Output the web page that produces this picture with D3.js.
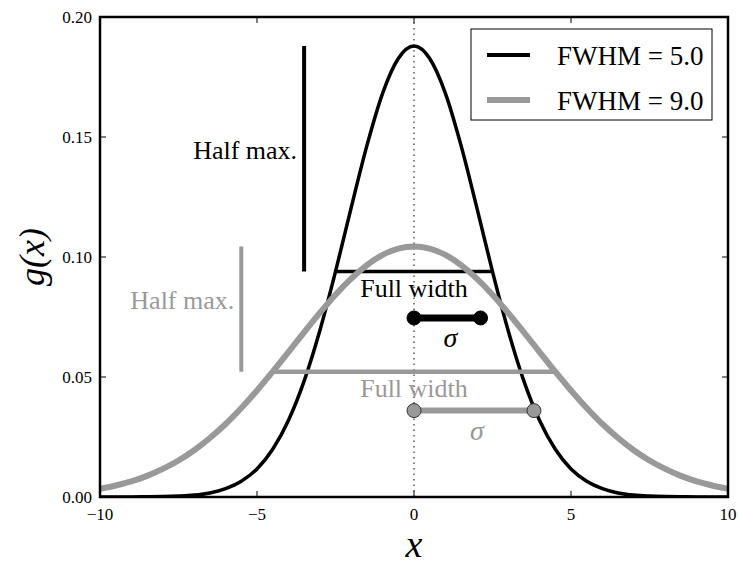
<!DOCTYPE html>
<html>
<head>
<meta charset="utf-8">
<script src="https://cdn.jsdelivr.net/npm/d3@7"></script>
<style>
  body { margin: 0; background: #fff; }
</style>
</head>
<body>
<div class="canvas"></div>
<script>
// sample positions and curve values
const xs = [-10, -9.5, -9, -8.5, -8, -7.5, -7, -6.5, -6, -5.5, -5, -4.5, -4, -3.5, -3, -2.5, -2, -1.5, -1, -0.5,
    0, 0.5, 1, 1.5, 2, 2.5, 3, 3.5, 4, 4.5, 5, 5.5, 6, 6.5, 7, 7.5, 8, 8.5, 9, 9.5, 10]

const fwhm5 = [0, 0, 0, 0.0001, 0.0002, 0.0004, 0.0008, 0.0017, 0.0035, 0.0066, 0.0117, 0.0199, 0.0319, 0.0483, 0.0693, 0.0939, 0.1206, 0.1464, 0.1682, 0.1827,
    0.1879, 0.1827, 0.1682, 0.1464, 0.1206, 0.0939, 0.0693, 0.0483, 0.0319, 0.0199, 0.0117, 0.0066, 0.0035, 0.0017, 0.0008, 0.0004, 0.0002, 0.0001, 0, 0, 0]

const fwhm9 = [0.0034, 0.0048, 0.0065, 0.0088, 0.0117, 0.0152, 0.0195, 0.0246, 0.0304, 0.0371, 0.0444, 0.0522, 0.0604, 0.0686, 0.0767, 0.0843, 0.0910, 0.0966, 0.1009, 0.1035,
    0.1044, 0.1035, 0.1009, 0.0966, 0.0910, 0.0843, 0.0767, 0.0686, 0.0604, 0.0522, 0.0444, 0.0371, 0.0304, 0.0246, 0.0195, 0.0152, 0.0117, 0.0088, 0.0065, 0.0048, 0.0034]

// per-curve annotation values
const labels = ['FWHM = 5.0', 'FWHM = 9.0']
const peaks = [0.1879, 0.1044]
const halfWidths = [2.5, 4.5]
const sigmas = [2.12, 3.82]
const sigmaY = [0.0746, 0.036]
const halfMaxX = [-3.5, -5.5]

const xTicks = [-10, -5, 0, 5, 10]
const yTicks = [0, 0.05, 0.10, 0.15, 0.20]

const serif = '"Liberation Serif", "Times New Roman", Tinos, "DejaVu Serif", "Noto Serif", serif'

const dims = { width: 738, height: 567 }
const margin = { left: 100, top: 17, right: 10, bottom: 70 }
const w = dims.width - margin.left - margin.right
const h = dims.height - margin.top - margin.bottom

const styles = [
    { color: '#000', lw: 3.5, dotFill: '#000' },
    { color: '#999', lw: 6, dotFill: '#999' }
]
const series = [fwhm5, fwhm9]

const svg = d3.select('.canvas')
    .append('svg')
    .attr('width', dims.width)
    .attr('height', dims.height)
    .style('font-family', serif)

const graph = svg.append('g')
    .attr('transform', `translate(${margin.left}, ${margin.top})`)

const x = d3.scaleLinear().domain([-10, 10]).range([0, w])
const y = d3.scaleLinear().domain([0, 0.2]).range([h, 0])

svg.append('defs').append('clipPath')
    .attr('id', 'clip')
    .append('rect')
    .attr('width', w).attr('height', h)

// dotted centre line
graph.append('line')
    .attr('x1', x(0)).attr('x2', x(0))
    .attr('y1', 0).attr('y2', h)
    .attr('stroke', '#000')
    .attr('stroke-width', 1)
    .attr('stroke-dasharray', '1.5,4')

const line = d3.line()
    .x((d, i) => x(xs[i]))
    .y(d => y(d))
    .curve(d3.curveMonotoneX)

series.forEach((vals, k) => {
    const s = styles[k]
    const g = graph.append('g').attr('clip-path', 'url(#clip)')

    g.append('path')
        .attr('d', line(vals))
        .attr('fill', 'none')
        .attr('stroke', s.color)
        .attr('stroke-width', s.lw)

    const half = peaks[k] / 2

    // half max bar
    g.append('line')
        .attr('x1', x(halfMaxX[k])).attr('x2', x(halfMaxX[k]))
        .attr('y1', y(half)).attr('y2', y(peaks[k]))
        .attr('stroke', s.color)
        .attr('stroke-width', 4)

    graph.append('text')
        .attr('x', x(halfMaxX[k]) - 7)
        .attr('y', y((half + peaks[k]) / 2))
        .attr('text-anchor', 'end')
        .attr('font-size', 26)
        .attr('fill', s.color)
        .style('font-family', serif)
        .text('Half max.')

    // full width bar
    g.append('line')
        .attr('x1', x(-halfWidths[k])).attr('x2', x(halfWidths[k]))
        .attr('y1', y(half)).attr('y2', y(half))
        .attr('stroke', s.color)
        .attr('stroke-width', k ? 4.5 : 3.5)

    graph.append('text')
        .attr('x', x(0))
        .attr('y', y(half) + 25)
        .attr('text-anchor', 'middle')
        .attr('font-size', 26)
        .attr('fill', s.color)
        .style('font-family', serif)
        .text('Full width')

    // sigma bar with end dots
    graph.append('line')
        .attr('x1', x(0)).attr('x2', x(sigmas[k]))
        .attr('y1', y(sigmaY[k])).attr('y2', y(sigmaY[k]))
        .attr('stroke', s.color)
        .attr('stroke-width', k ? 6 : 7)

    graph.selectAll(null)
        .data([0, sigmas[k]])
        .enter()
        .append('circle')
            .attr('cx', d => x(d))
            .attr('cy', y(sigmaY[k]))
            .attr('r', 7)
            .attr('fill', s.dotFill)
            .attr('stroke', k ? '#333' : '#000')
            .attr('stroke-width', 1)

    graph.append('text')
        .attr('x', x(sigmas[k] / 2) + 3)
        .attr('y', y(sigmaY[k]) + 29)
        .attr('text-anchor', 'middle')
        .attr('font-size', 28)
        .attr('font-style', 'italic')
        .attr('fill', s.color)
        .style('font-family', serif)
        .text('σ')
})

// frame
graph.append('rect')
    .attr('width', w).attr('height', h)
    .attr('fill', 'none')
    .attr('stroke', '#000')
    .attr('stroke-width', 2.5)

// ticks, inward on all four sides
const tickLen = 6
xTicks.forEach(t => {
    graph.append('line').attr('x1', x(t)).attr('x2', x(t)).attr('y1', h).attr('y2', h - tickLen).attr('stroke', '#000')
    graph.append('line').attr('x1', x(t)).attr('x2', x(t)).attr('y1', 0).attr('y2', tickLen).attr('stroke', '#000')
})
yTicks.forEach(t => {
    graph.append('line').attr('x1', 0).attr('x2', tickLen).attr('y1', y(t)).attr('y2', y(t)).attr('stroke', '#000')
    graph.append('line').attr('x1', w).attr('x2', w - tickLen).attr('y1', y(t)).attr('y2', y(t)).attr('stroke', '#000')
})

const fmtX = d3.format('d')
const fmtY = d3.format('.2f')

graph.selectAll('.xlab')
    .data(xTicks)
    .enter()
    .append('text')
        .attr('x', d => x(d))
        .attr('y', h + 23)
        .attr('text-anchor', 'middle')
        .attr('font-size', 17)
        .style('font-family', serif)
        .text(d => fmtX(d))

graph.selectAll('.ylab')
    .data(yTicks)
    .enter()
    .append('text')
        .attr('x', -8)
        .attr('y', d => y(d) + 6)
        .attr('text-anchor', 'end')
        .attr('font-size', 17)
        .style('font-family', serif)
        .text(d => fmtY(d))

// axis labels
svg.append('text')
    .attr('x', margin.left + x(0))
    .attr('y', 557)
    .attr('text-anchor', 'middle')
    .attr('font-size', 38)
    .attr('font-style', 'italic')
    .style('font-family', serif)
    .text('x')

svg.append('text')
    .attr('transform', `translate(44, ${margin.top + h / 2}) rotate(-90)`)
    .attr('text-anchor', 'middle')
    .attr('font-size', 36)
    .attr('font-style', 'italic')
    .style('font-family', serif)
    .text('g(x)')

// legend
const legend = svg.append('g')
legend.append('rect')
    .attr('x', 471).attr('y', 29)
    .attr('width', 241).attr('height', 91)
    .attr('fill', '#fff')
    .attr('stroke', '#000')
    .attr('stroke-width', 1)

labels.forEach((lab, k) => {
    const ly = 55 + k * 45
    legend.append('line')
        .attr('x1', 487).attr('x2', 530)
        .attr('y1', ly).attr('y2', ly)
        .attr('stroke', styles[k].color)
        .attr('stroke-width', k ? 6 : 4)
    legend.append('text')
        .attr('x', 557)
        .attr('y', ly + 10)
        .attr('font-size', 27)
        .style('font-family', serif)
        .text(lab)
})
</script>
</body>
</html>
